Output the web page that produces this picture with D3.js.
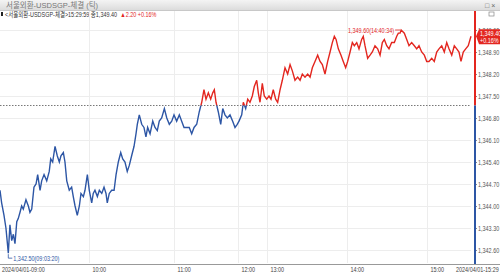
<!DOCTYPE html>
<html>
<head>
<meta charset="utf-8">
<script src="https://cdn.jsdelivr.net/npm/d3@7"></script>
<style>
  body { margin: 0; background: #fff; }
  svg { display: block; font-family: "Liberation Sans", "Noto Sans CJK KR", sans-serif; }
</style>
</head>
<body>
<div id="chart"></div>
<script>
// minutes after 09:00 and traded price
var minutes = [0, 1.1, 2.7, 4.0, 5.6, 6.7, 7.9, 9.0, 10.1, 11.3, 12.3, 13.5, 14.6, 15.7, 17.5, 19.1, 20.2, 21.4, 22.9, 24.3,
  25.4, 27.0, 28.1, 29.7, 31.5, 33.2, 34.2, 35.5, 37.1, 38.6, 40.0, 41.1, 42.7, 43.8, 45.0, 46.7, 48.3, 49.4, 50.6, 52.1,
  53.5, 54.6, 56.2, 57.3, 58.9, 60.2, 61.9, 63.0, 64.2, 65.9, 67.3, 69.0, 70.6, 72.0, 72.9, 74.3, 76.0, 77.7, 79.1, 80.7,
  82.4, 83.8, 85.4, 87.0, 88.5, 90.1, 91.8, 93.2, 94.1, 95.5, 97.2, 98.8, 100.2, 101.4, 103.1, 105.0, 106.6, 108.2, 109.6, 111.3,
  113.2, 114.9, 116.7, 118.4, 120.0, 122.5, 125.0, 127.2, 129.4, 131.9, 134.3, 136.6, 138.8, 141.3, 143.7, 146.0, 148.1, 150.0, 152.2, 154.4,
  156.3, 157.8, 159.4, 161.5, 163.8, 165.7, 167.8, 170.0, 172.5, 175.0, 177.2, 179.3, 182.1, 187.7, 191.0, 195.9, 200.1, 204.8, 209.6, 213.7,
  218.7, 222.0, 225.5, 230.3, 234.4, 239.4, 241.5, 243.0, 244.7, 246.5, 248.0, 249.8, 251.5, 253.5, 255.5, 257.3, 259.0, 261.0, 263.0, 264.8,
  266.5, 268.5, 270.5, 272.3, 274.0, 276.0, 278.0, 279.8, 281.5, 283.5, 285.5, 287.3, 289.0, 290.5, 291.8, 293.5, 295.5, 297.2, 299.0, 300.5,
  302.3, 304.0, 305.5, 307.3, 309.0, 311.0, 312.2, 313.5, 315.5, 317.3, 319.0, 321.0, 323.0, 324.8, 326.5, 328.0, 329.8, 331.5, 333.5, 335.5,
  337.3, 338.5, 339.8, 340.6, 343.0, 344.8, 346.5, 348.5, 350.5, 352.3, 354.0, 356.0, 358.0, 359.8, 361.3, 363.1, 364.8, 366.4, 367.9, 369.7,
  371.4, 373.0, 374.5, 376.3, 378.0, 379.6, 381.1, 382.4, 383.9, 385.5, 387.2, 389.0];
var prices = [1344.5, 1344.1, 1343.7, 1343.3, 1342.5, 1343.4, 1342.9, 1343.1, 1342.8, 1343.5, 1343.6, 1343.8, 1344.0, 1343.9, 1344.2, 1344.0, 1343.8, 1343.9, 1344.6, 1344.7,
  1345.0, 1344.5, 1344.8, 1345.0, 1344.8, 1345.1, 1345.5, 1345.4, 1345.9, 1345.6, 1345.4, 1345.6, 1345.7, 1345.4, 1344.8, 1344.5, 1344.6, 1344.3, 1344.0, 1343.7,
  1344.0, 1344.4, 1344.3, 1344.5, 1345.0, 1344.5, 1344.1, 1344.4, 1344.5, 1344.3, 1344.5, 1344.4, 1344.6, 1344.4, 1344.1, 1344.4, 1344.5, 1344.5, 1345.0, 1345.4,
  1345.7, 1345.5, 1345.4, 1345.1, 1345.3, 1345.6, 1345.9, 1346.3, 1346.6, 1346.9, 1346.6, 1346.5, 1346.2, 1346.5, 1346.3, 1346.7, 1346.5, 1346.4, 1346.7, 1346.8,
  1347.1, 1346.8, 1346.6, 1346.7, 1346.9, 1346.7, 1346.9, 1346.7, 1346.5, 1346.5, 1346.5, 1346.3, 1346.5, 1346.6, 1347.0, 1347.3, 1347.7, 1347.4, 1347.6, 1347.4,
  1347.6, 1347.7, 1347.3, 1347.0, 1346.6, 1347.1, 1346.9, 1346.8, 1346.9, 1346.7, 1346.5, 1346.6, 1346.7, 1346.9, 1347.3, 1347.1, 1347.4, 1347.3, 1347.5, 1347.8,
  1348.0, 1347.6, 1347.3, 1347.9, 1347.5, 1347.4, 1347.5, 1347.4, 1347.7, 1347.4, 1347.3, 1347.7, 1348.0, 1348.4, 1348.2, 1348.5, 1348.3, 1348.0, 1348.1, 1348.0,
  1348.2, 1348.1, 1348.2, 1348.1, 1348.4, 1348.6, 1348.8, 1348.6, 1348.5, 1348.2, 1348.6, 1348.9, 1349.2, 1349.4, 1349.3, 1349.0, 1348.8, 1348.6, 1348.4, 1348.6,
  1348.9, 1349.2, 1349.1, 1349.2, 1349.0, 1349.3, 1349.4, 1349.1, 1348.7, 1348.8, 1348.9, 1349.1, 1349.0, 1348.8, 1349.2, 1349.3, 1349.1, 1349.0, 1349.2, 1349.2,
  1349.4, 1349.5, 1349.5, 1349.6, 1349.5, 1349.3, 1349.1, 1349.2, 1349.1, 1349.0, 1349.1, 1348.9, 1348.8, 1348.6, 1348.6, 1348.7, 1348.6, 1348.9, 1349.0, 1349.1,
  1348.9, 1349.2, 1349.0, 1348.8, 1349.1, 1349.0, 1348.9, 1348.6, 1348.9, 1349.0, 1349.1, 1349.4];

var prevClose = 1347.20;
var lastPrice = 1349.40;
var priceTicks = [1342.60, 1343.30, 1344.00, 1344.70, 1345.40, 1346.10, 1346.80, 1347.50, 1348.20, 1348.90, 1349.60];
var hourTicks = [60, 120, 180, 240, 300, 360];
var hourLabels = ["10:00", "11:00", "12:00", "13:00", "14:00", "15:00"];
var titleText = "서울외환-USDSGP-체결 (틱)";
var headerText = "<서울외환-USDSGP-체결>15:29:59 종1,349.40";
var changeText = "▲2.20 +0.16%";
var highText = "1,349.60(14:40:34)";
var lowText = "1,342.50(09:03:20)";

var svgWidth = 500;
var svgHeight = 275;
var plotRight = 471;
var axisX = 475;
var squeeze = 0.78; // the chart's font is much narrower than Liberation Sans

var red = "#e3261f";
var blue = "#2d56a5";

var svg = d3.select("#chart").append("svg")
    .attr("width", svgWidth)
    .attr("height", svgHeight);

// tick-based time axis: hours are not equally wide
var x = d3.scaleLinear()
    .domain([0, 60, 120, 180, 240, 300, 360, 389])
    .range([0, 89, 174, 238, 267, 347, 427, plotRight]);
var y = d3.scaleLinear().domain([1342.60, 1349.60]).range([250, 30]);

var data = minutes.map(function (m, i) { return { m: m, p: prices[i] }; });

// title bar
var grad = svg.append("defs").append("linearGradient").attr("id", "bar").attr("x1", 0).attr("y1", 0).attr("x2", 0).attr("y2", 1);
grad.append("stop").attr("offset", "0%").attr("stop-color", "#f4f4f4");
grad.append("stop").attr("offset", "100%").attr("stop-color", "#dcdcdc");
svg.append("rect").attr("x", 0).attr("y", 0).attr("width", svgWidth).attr("height", 10).attr("fill", "url(#bar)");
svg.append("line").attr("x1", 0).attr("x2", svgWidth).attr("y1", 10.5).attr("y2", 10.5).attr("stroke", "#c8c8c8");
svg.append("text").attr("x", 6).attr("y", 8).attr("font-size", 7.5).attr("fill", "#777").text(titleText);
svg.append("text").attr("x", 485).attr("y", 8).attr("font-size", 7).attr("fill", "#666").text("□ ×");
svg.append("rect").attr("x", 489).attr("y", 12).attr("width", 5).attr("height", 4).attr("fill", "none").attr("stroke", "#888").attr("stroke-width", 0.7);

// header line
svg.append("rect").attr("x", 1).attr("y", 12).attr("width", 2).attr("height", 4).attr("fill", "#222");
var head = svg.append("text").attr("class", "sq").attr("x", 5).attr("y", 17).attr("font-size", 7)
    .attr("fill", "#333").text(headerText);
var headEnd = 5 + head.node().getComputedTextLength() * squeeze;
svg.append("text").attr("class", "sq").attr("x", headEnd + 3).attr("y", 17).attr("font-size", 7)
    .attr("fill", red).text(changeText);

// grid
var grid = svg.append("g");
grid.selectAll(".hg").data(priceTicks).enter().append("line")
    .attr("x1", 0).attr("x2", plotRight)
    .attr("y1", function (d) { return Math.round(y(d)) + 0.5; })
    .attr("y2", function (d) { return Math.round(y(d)) + 0.5; })
    .attr("stroke", "#ededed");
grid.selectAll(".vg").data(hourTicks).enter().append("line")
    .attr("x1", function (d) { return Math.round(x(d)) + 0.5; })
    .attr("x2", function (d) { return Math.round(x(d)) + 0.5; })
    .attr("y1", 11).attr("y2", 263)
    .attr("stroke", "#ededed");

// previous close reference
var yRef = y(prevClose);
svg.append("line")
    .attr("x1", 0).attr("x2", plotRight)
    .attr("y1", Math.round(yRef) + 0.5).attr("y2", Math.round(yRef) + 0.5)
    .attr("stroke", "#555").attr("stroke-dasharray", "1.5,1.5").attr("stroke-width", 0.8);

// price line, red above the previous close and blue below
var defs = svg.append("defs");
defs.append("clipPath").attr("id", "above").append("rect")
    .attr("x", 0).attr("y", 0).attr("width", svgWidth).attr("height", yRef);
defs.append("clipPath").attr("id", "below").append("rect")
    .attr("x", 0).attr("y", yRef).attr("width", svgWidth).attr("height", svgHeight - yRef);

var line = d3.line()
    .x(function (d) { return x(d.m); })
    .y(function (d) { return y(d.p); });

svg.append("path").datum(data)
    .attr("d", line).attr("fill", "none")
    .attr("stroke", red).attr("stroke-width", 1.4)
    .attr("clip-path", "url(#above)");
svg.append("path").datum(data)
    .attr("d", line).attr("fill", "none")
    .attr("stroke", blue).attr("stroke-width", 1.4)
    .attr("clip-path", "url(#below)");

// high / low annotations
var hi = data[d3.maxIndex(data, function (d) { return d.p; })];
var lo = data[d3.minIndex(data, function (d) { return d.p; })];
svg.append("line")
    .attr("x1", x(hi.m) - 6).attr("x2", x(hi.m) - 1)
    .attr("y1", y(hi.p)).attr("y2", y(hi.p))
    .attr("stroke", red).attr("stroke-width", 0.8);
var hiText = svg.append("text").attr("class", "sq")
    .attr("y", y(hi.p) + 2.5)
    .attr("font-size", 7).attr("fill", red)
    .text(highText);
hiText.attr("x", x(hi.m) - 7 - hiText.node().getComputedTextLength() * squeeze);
svg.append("path")
    .attr("d", "M" + x(lo.m) + "," + (y(lo.p) + 1) + "V" + (y(lo.p) + 5) + "h4")
    .attr("fill", "none").attr("stroke", blue).attr("stroke-width", 0.8);
svg.append("text").attr("class", "sq")
    .attr("x", x(lo.m) + 5).attr("y", y(lo.p) + 7.5)
    .attr("font-size", 7).attr("fill", blue)
    .text(lowText);

// right price axis
var rightAxis = d3.axisRight(y).tickValues(priceTicks).tickSize(2).tickPadding(1)
    .tickFormat(d3.format(",.2f"));
var ax = svg.append("g").attr("transform", "translate(" + axisX + ",0)").call(rightAxis);
ax.attr("font-family", null);
ax.select(".domain").remove();
ax.selectAll("line").attr("stroke", "#888");
ax.selectAll("text").attr("class", "sq").attr("font-size", 7).attr("fill", "#555");

svg.append("line").attr("x1", axisX).attr("x2", axisX).attr("y1", 11).attr("y2", yRef)
    .attr("stroke", red).attr("stroke-width", 2);
svg.append("line").attr("x1", axisX).attr("x2", axisX).attr("y1", yRef).attr("y2", 264)
    .attr("stroke", blue).attr("stroke-width", 2);

// last price tag
var yLast = y(lastPrice);
svg.append("path")
    .attr("d", "M" + (axisX + 1) + "," + yLast + "L" + (axisX + 4) + "," + (yLast - 7) + "H500V" + (yLast + 8) + "H" + (axisX + 4) + "Z")
    .attr("fill", red);
svg.append("text").attr("class", "sq").attr("x", axisX + 5).attr("y", yLast - 0.5).attr("font-size", 7).attr("fill", "#fff").text(d3.format(",.2f")(lastPrice));
svg.append("text").attr("class", "sq").attr("x", axisX + 5).attr("y", yLast + 6.5).attr("font-size", 7).attr("fill", "#fff").text("+0.16%");

// bottom time axis
svg.append("line").attr("x1", 0).attr("x2", svgWidth).attr("y1", 264.5).attr("y2", 264.5).attr("stroke", "#999");
var bottomAxis = d3.axisBottom(x).tickValues(hourTicks).tickSize(0).tickPadding(0)
    .tickFormat(function (d, i) { return hourLabels[i]; });
var bx = svg.append("g").attr("transform", "translate(0,264)").call(bottomAxis);
bx.attr("font-family", null);
bx.select(".domain").remove();
bx.selectAll("text").attr("class", "sq").attr("text-anchor", "start").attr("x", 3).attr("dy", 0).attr("y", 8)
    .attr("font-size", 7).attr("fill", "#444");
svg.append("text").attr("class", "sq").attr("x", 2).attr("y", 272).attr("font-size", 7).attr("fill", "#444").text("2024/04/01-09:00");
svg.append("text").attr("class", "sq").attr("x", 456).attr("y", 272).attr("font-size", 7).attr("fill", "#444").text("2024/04/01-15:29");

// narrow every label with a horizontal scale about its own anchor
svg.selectAll("text.sq").each(function () {
    var t = d3.select(this);
    var tx = +t.attr("x") || 0;
    var ty = +t.attr("y") || 0;
    t.attr("x", 0).attr("y", 0)
        .attr("transform", "translate(" + tx + "," + ty + ") scale(" + squeeze + ",1)");
});
</script>
</body>
</html>
